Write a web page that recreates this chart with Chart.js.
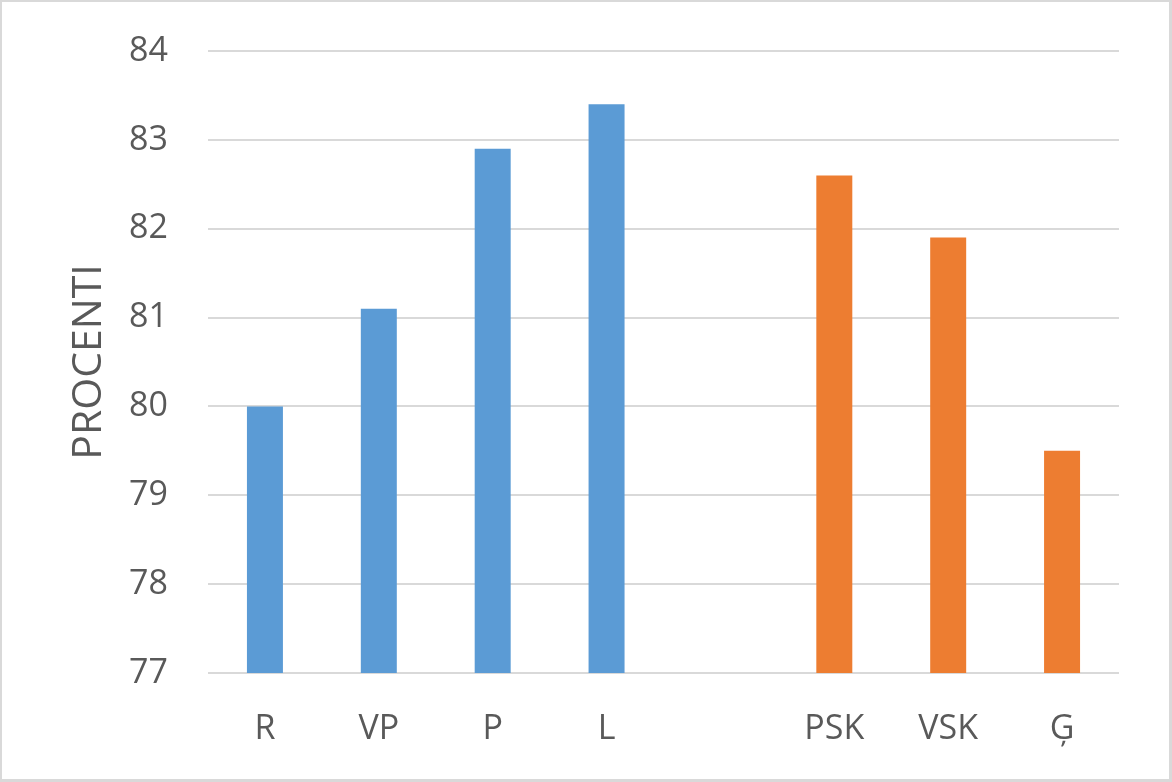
<!DOCTYPE html>
<html>
<head>
<meta charset="utf-8">
<script src="https://cdn.jsdelivr.net/npm/chart.js@4/dist/chart.umd.min.js"></script>
<style>
  html, body { margin: 0; padding: 0; background: #ffffff; }
  #wrap { position: relative; width: 1172px; height: 782px; }
  #frame { position: absolute; left: 0; top: 0; width: 1172px; height: 782px; box-sizing: border-box;
           border-style: solid; border-color: #D9D9D9; border-width: 2px 3px 3px 2px; pointer-events: none; }
  canvas { display: block; }
</style>
</head>
<body>
<div id="wrap">
  <canvas id="c" width="1172" height="782"></canvas>
  <div id="frame"></div>
</div>
<script>
const categories = ['R', 'VP', 'P', 'L', '', 'PSK', 'VSK', 'Ģ'];
const blueValues = [80.0, 81.1, 82.9, 83.4, null, null, null, null];
const orangeValues = [null, null, null, null, null, 82.6, 81.9, 79.5];
const yTicks = [77, 78, 79, 80, 81, 82, 83, 84];
const yTitle = 'PROCENTI';

const textColor = '#595959';
const fontFamily = '"Open Sans", "Noto Sans", sans-serif';

new Chart(document.getElementById('c'), {
  type: 'bar',
  data: {
    labels: categories,
    datasets: [
      { data: blueValues, backgroundColor: '#5B9BD5', borderWidth: 0 },
      { data: orangeValues, backgroundColor: '#ED7D31', borderWidth: 0 }
    ]
  },
  options: {
    responsive: false,
    animation: false,
    devicePixelRatio: 1,
    grouped: false,
    barPercentage: 0.316,
    categoryPercentage: 1.0,
    layout: { padding: { top: 51, right: 53, bottom: 0, left: 0 } },
    plugins: { legend: { display: false }, tooltip: { enabled: false } },
    scales: {
      x: {
        grid: { display: false, drawTicks: false },
        border: { display: false },
        ticks: { color: textColor, font: { family: fontFamily, size: 34 }, padding: 36, maxRotation: 0, autoSkip: false },
        afterFit: (s) => { s.height = 109; s.paddingLeft = 0; s.paddingRight = 0; }
      },
      y: {
        min: 77,
        max: 84,
        afterBuildTicks: (s) => { s.ticks = yTicks.map(v => ({ value: v })); },
        grid: { color: '#D9D9D9', lineWidth: 2, drawTicks: false },
        border: { display: false },
        ticks: { color: textColor, font: { family: fontFamily, size: 34 }, padding: 40 },
        title: { display: true, text: yTitle, color: textColor, font: { family: fontFamily, size: 41 }, padding: { top: 65, bottom: 0 } },
        afterFit: (s) => { s.width = 208; s.paddingTop = 0; s.paddingBottom = 0; }
      }
    }
  }
});
</script>
</body>
</html>
